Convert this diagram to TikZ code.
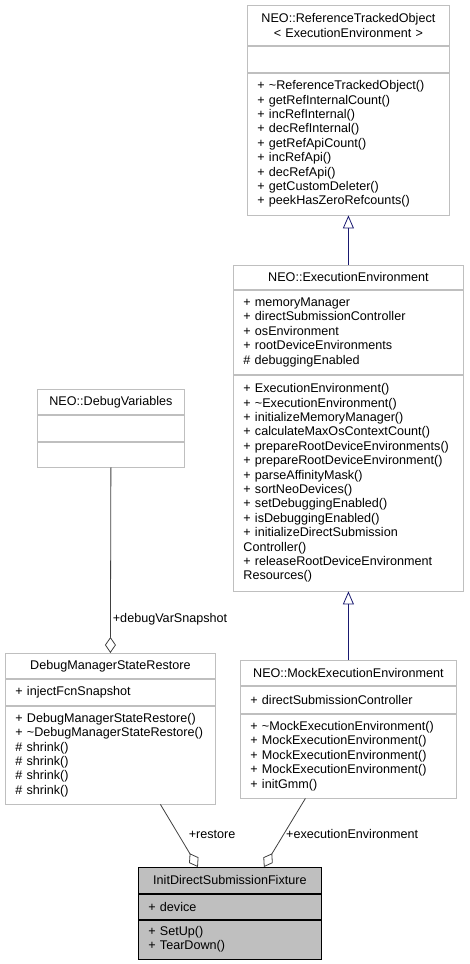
\documentclass[tikz,border=0pt]{standalone}
\usepackage{fontspec}
\setmainfont{Liberation Sans}
\usepackage{tikz}
\usetikzlibrary{positioning,arrows.meta,calc}
\definecolor{boxedge}  {HTML}{BFBFBF}
\definecolor{inherit}  {HTML}{191970}
\definecolor{usage}    {HTML}{404040}
\colorlet{focusfill}{boxedge}
\tikzset{
  every node/.style={font=\fontsize{12.6}{14.4}\selectfont},
  % --- class boxes
  cls/.style   = {draw=boxedge, fill=white, line width=0.8pt, inner xsep=10pt,
                  inner ysep=2pt, align=left},
  ttl/.style   = {cls, align=center},
  focus/.style = {draw=black, fill=focusfill},
  % --- edges
  isa/.style   = {draw=inherit, line width=0.8pt, -{Triangle[open,length=13pt,width=11pt]}},
  has/.style   = {draw=usage, line width=0.8pt, -{Diamond[open,length=16pt,width=11pt]}},
  role/.style  = {inner sep=1pt, anchor=west},
}

\begin{document}
\begin{tikzpicture}[x=1pt, y=-1pt]
  \useasboundingbox (0,0) rectangle (469,964);
  % base class
  \node[ttl, anchor=north west, text width=182pt, minimum height=40pt] (rto) at (247,5)
    {NEO::ReferenceTrackedObject\\< ExecutionEnvironment >};
  \node[cls, below=0pt of rto, text width=182pt, minimum height=26pt] (rto-a) {};
  \node[cls, below=0pt of rto-a, text width=182pt, minimum height=142pt] (rto-m)
    {+ \textasciitilde ReferenceTrackedObject()\\+ getRefInternalCount()\\+ incRefInternal()\\
     + decRefInternal()\\+ getRefApiCount()\\+ incRefApi()\\+ decRefApi()\\
     + getCustomDeleter()\\+ peekHasZeroRefcounts()};

  % execution environment
  \node[ttl, anchor=north west, text width=210pt, minimum height=24pt] (ee) at (233,265)
    {NEO::ExecutionEnvironment};
  \node[cls, below=0pt of ee, text width=210pt, minimum height=84pt] (ee-a)
    {+ memoryManager\\+ directSubmissionController\\+ osEnvironment\\
     + rootDeviceEnvironments\\\# debuggingEnabled};
  \node[cls, below=0pt of ee-a, text width=210pt, minimum height=216pt] (ee-m)
    {+ ExecutionEnvironment()\\+ \textasciitilde ExecutionEnvironment()\\+ initializeMemoryManager()\\
     + calculateMaxOsContextCount()\\+ prepareRootDeviceEnvironments()\\
     + prepareRootDeviceEnvironment()\\+ parseAffinityMask()\\+ sortNeoDevices()\\
     + setDebuggingEnabled()\\+ isDebuggingEnabled()\\+ initializeDirectSubmission\\
     Controller()\\+ releaseRootDeviceEnvironment\\Resources()};

  % debug variables
  \node[ttl, anchor=north west, text width=127pt, minimum height=25pt] (dv) at (37,389)
    {NEO::DebugVariables};
  \node[cls, below=0pt of dv, text width=127pt, minimum height=26pt] (dv-a) {};
  \node[cls, below=0pt of dv-a, text width=127pt, minimum height=25pt] (dv-m) {};

  % state restore
  \node[ttl, anchor=north west, text width=190pt, minimum height=25pt] (dmsr) at (5,653)
    {DebugManagerStateRestore};
  \node[cls, below=0pt of dmsr, text width=190pt, minimum height=26pt] (dmsr-a)
    {+ injectFcnSnapshot};
  \node[cls, below=0pt of dmsr-a, text width=190pt, minimum height=98pt] (dmsr-m)
    {+ DebugManagerStateRestore()\\+ \textasciitilde DebugManagerStateRestore()\\
     \# shrink()\\\# shrink()\\\# shrink()\\\# shrink()};

  % mock environment
  \node[ttl, anchor=north west, text width=196pt, minimum height=25pt] (mee) at (240,660)
    {NEO::MockExecutionEnvironment};
  \node[cls, below=0pt of mee, text width=196pt, minimum height=27pt] (mee-a)
    {+ directSubmissionController};
  \node[cls, below=0pt of mee-a, text width=196pt, minimum height=84pt] (mee-m)
    {+ \textasciitilde MockExecutionEnvironment()\\+ MockExecutionEnvironment()\\
     + MockExecutionEnvironment()\\+ MockExecutionEnvironment()\\+ initGmm()};

  % fixture
  \node[ttl, focus, anchor=north west, text width=163pt, minimum height=26pt] (fix) at (138,867)
    {InitDirectSubmissionFixture};
  \node[cls, focus, below=0pt of fix, text width=163pt, minimum height=25pt] (fix-a) {+ device};
  \node[cls, focus, below=0pt of fix-a, text width=163pt, minimum height=39pt] (fix-m)
    {+ SetUp()\\+ TearDown()};

  \draw[isa] (ee.north) -- (rto-m.south);
  \draw[isa] (mee.north) -- (ee-m.south);
  \draw[has] (dv-m.south) -- (dmsr.north)
    node[role, pos=0.82, xshift=1pt] {+debugVarSnapshot};
  \draw[has] ([xshift=50pt]dmsr-m.south) -- ([xshift=-32pt]fix.north)
    node[role, pos=0.48, xshift=9pt] {+restore};
  \draw[has] ([xshift=-43pt]mee-m.south) -- ([xshift=34pt]fix.north)
    node[role, pos=0.52, xshift=1pt] {+executionEnvironment};
\end{tikzpicture}
\end{document}
